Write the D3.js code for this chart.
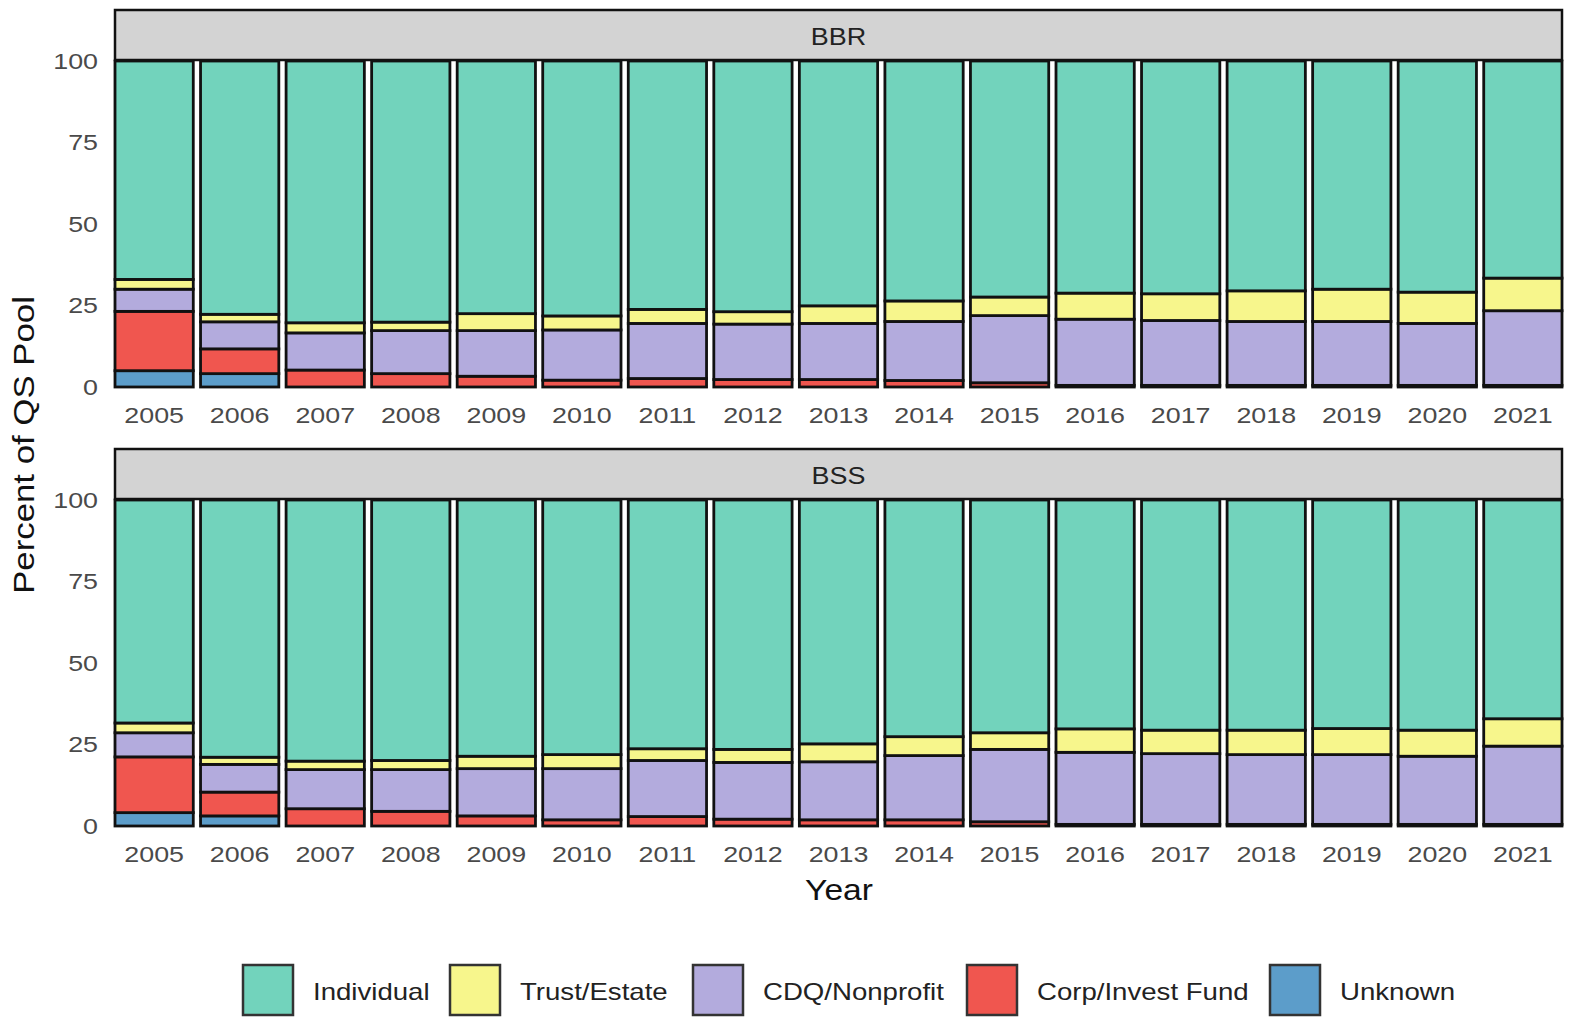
<!DOCTYPE html>
<html><head><meta charset="utf-8">
<script src="https://cdn.jsdelivr.net/npm/d3@7"></script>
<style>body{margin:0;background:#fff}svg{display:block}</style>
</head><body>
<svg id="c" width="1570" height="1024"></svg>
<script>
const years = ["2005","2006","2007","2008","2009","2010","2011","2012","2013","2014","2015","2016","2017","2018","2019","2020","2021"];
const categories = ["Individual","Trust/Estate","CDQ/Nonprofit","Corp/Invest Fund","Unknown"];
const stackOrder = ["Unknown","Corp/Invest Fund","CDQ/Nonprofit","Trust/Estate","Individual"];
const colors = ["#72d3bc","#f7f68c","#b3abdd","#f0564f","#5c9dca"];
const yTicks = [0,25,50,75,100];
const panels = ["BBR","BSS"];

// BBR shares (percent)
const bbrUnknown = [5.0,4.1,0,0,0,0,0,0,0,0,0,0.5,0.5,0.5,0.5,0.5,0.5];
const bbrCorp    = [18.2,7.6,5.2,4.1,3.3,2.1,2.6,2.3,2.3,2.0,1.3,0,0,0,0,0,0];
const bbrCDQ     = [6.8,8.3,11.4,13.2,14.0,15.4,16.9,17.0,17.2,18.1,20.6,20.3,19.9,19.6,19.6,19.0,22.9];
const bbrTrust   = [3.0,2.3,3.1,2.6,5.2,4.3,4.3,3.8,5.4,6.3,5.7,8.0,8.2,9.4,9.9,9.6,10.0];

// BSS shares (percent)
const bssUnknown = [4.1,3.1,0,0,0,0,0,0,0,0,0,0.5,0.5,0.5,0.5,0.5,0.5];
const bssCorp    = [17.1,7.3,5.3,4.5,3.1,1.9,2.9,2.1,1.9,1.9,1.3,0,0,0,0,0,0];
const bssCDQ     = [7.4,8.5,12.0,12.8,14.5,15.7,17.2,17.4,17.8,19.7,22.2,22.1,21.7,21.4,21.4,20.9,24.0];
const bssTrust   = [3.0,2.2,2.6,2.8,3.8,4.3,3.6,4.0,5.5,5.8,5.1,7.2,7.2,7.5,8.0,8.0,8.4];

function build(unk, corp, cdq, trust){
  return years.map((y,i)=>({
    year:y,
    "Unknown":unk[i],
    "Corp/Invest Fund":corp[i],
    "CDQ/Nonprofit":cdq[i],
    "Trust/Estate":trust[i],
    "Individual":100-unk[i]-corp[i]-cdq[i]-trust[i]
  }));
}
const panelData = {BBR: build(bbrUnknown,bbrCorp,bbrCDQ,bbrTrust), BSS: build(bssUnknown,bssCorp,bssCDQ,bssTrust)};

const svg = d3.select("#c");
const color = d3.scaleOrdinal().domain(categories).range(colors);
const FONT = "'Liberation Sans', Arial, sans-serif";

function txt(g, x, y, s, opts){
  return g.append("text")
    .attr("transform", `translate(${x},${y})` + (opts.rot?` rotate(${opts.rot})`:"") + ` scale(${opts.sx||1.2},1)`)
    .attr("font-family", FONT)
    .attr("font-size", opts.size)
    .attr("fill", opts.fill||"#000")
    .attr("text-anchor", opts.anchor||"middle")
    .attr("dominant-baseline", "central")
    .text(s);
}

const left = 115, right = 1562;
const x = d3.scaleBand().domain(years).range([left,right]).paddingInner(0.085).paddingOuter(0.0);
const layout = [
  {name:"BBR", stripTop:10, top:61, bottom:387},
  {name:"BSS", stripTop:449, top:500, bottom:826}
];
const stack = d3.stack().keys(stackOrder);

layout.forEach(p=>{
  const g = svg.append("g");
  const y = d3.scaleLinear().domain([0,100]).range([p.bottom,p.top]);
  // strip
  g.append("rect").attr("x",left).attr("y",p.stripTop).attr("width",right-left).attr("height",p.top-p.stripTop-1)
    .attr("fill","#d3d3d3").attr("stroke","#111").attr("stroke-width",2.5);
  txt(g,(left+right)/2,(p.stripTop+p.top)/2+1,p.name,{size:23,fill:"#222",sx:1.17});
  // bars
  const series = stack(panelData[p.name]);
  series.forEach(s=>{
    g.append("g").selectAll("rect").data(s.filter(d=>d[1]-d[0]>0)).join("rect")
      .attr("x",d=>x(d.data.year)).attr("width",x.bandwidth())
      .attr("y",d=>y(d[1])).attr("height",d=>y(d[0])-y(d[1]))
      .attr("fill",color(s.key)).attr("stroke","#111").attr("stroke-width",2.8);
  });
  // y axis labels
  yTicks.forEach(t=>txt(g,98,y(t),String(t),{size:22,fill:"#4a4a4a",anchor:"end",sx:1.22}));
  // x labels
  years.forEach(yr=>txt(g,x(yr)+x.bandwidth()/2,p.bottom+28,yr,{size:22,fill:"#4a4a4a",sx:1.22}));
});

// axis titles
txt(svg,839,890,"Year",{size:30,fill:"#111",sx:1.12});
txt(svg,24,445,"Percent of QS Pool",{size:29,fill:"#111",sx:1.2,rot:-90});

// legend
const legendX = [243,450,693,967,1270];
categories.forEach((c,i)=>{
  svg.append("rect").attr("x",legendX[i]).attr("y",965).attr("width",50).attr("height",50)
    .attr("fill",color(c)).attr("stroke","#333").attr("stroke-width",2.5);
  txt(svg,legendX[i]+70,992,c,{size:23,fill:"#222",anchor:"start",sx:1.2});
});
</script>
</body></html>
